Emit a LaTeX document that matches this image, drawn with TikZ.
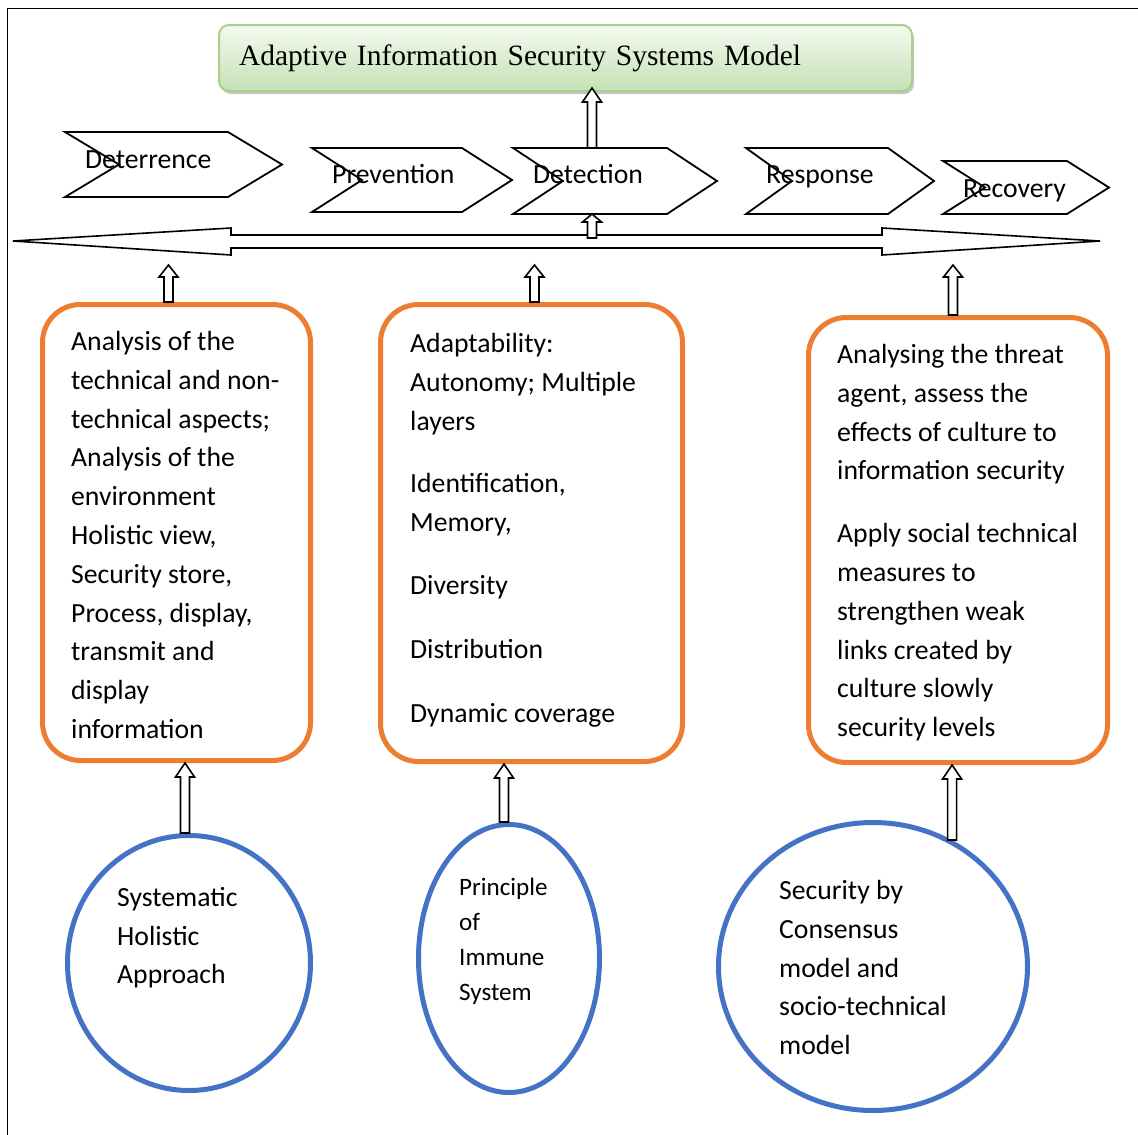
\documentclass[tikz,border=0pt]{standalone}
\usepackage{fontspec}
\setmainfont{Carlito}
\newfontfamily\titlefont{Liberation Serif}
\usetikzlibrary{calc}
\usetikzlibrary{shapes.geometric}
\usetikzlibrary{shadows}
\definecolor{boxorange}{HTML}{ED7D31}
\definecolor{ringblue}{HTML}{4472C4}
\definecolor{titleedge}{HTML}{A9D18E}
\definecolor{titletop}{HTML}{F4FAF0}
\definecolor{titlebot}{HTML}{C5E0B4}
\tikzset{
    chev/.style={draw, line width=1.8pt},
    hollow/.style={draw, line width=1.6pt, fill=white},
    obox/.style={draw=boxorange, line width=5pt, rounded corners=38pt},
    ring/.style={draw=ringblue, line width=5pt, ellipse},
    btext/.style={anchor=north west, inner sep=0pt, align=left, font=\fontsize{27.7}{38.8}\selectfont}
}
% hollow up arrow: x and foot from #2, tip height from #3
\newcommand{\hollowup}[3][14pt]{%
    \draw[hollow] let \p1=(#2), \p2=(#3) in
        (\x1-4.5pt,\y1) -- (\x1-4.5pt,\y2-#1) -- (\x1-9.5pt,\y2-#1) -- (\x1,\y2)
        -- (\x1+9.5pt,\y2-#1) -- (\x1+4.5pt,\y2-#1) -- (\x1+4.5pt,\y1) -- cycle;
}
\begin{document}
\begin{tikzpicture}[x=1pt,y=-1pt]
\useasboundingbox (0,0) rectangle (1138,1135);
\draw[line width=1pt] (7,1135) -- (7,8) -- (1138,8);

\node[draw=titleedge, line width=2pt, rounded corners=10pt, top color=titletop, bottom color=titlebot,
      drop shadow={shadow xshift=2pt, shadow yshift=-3pt, fill=black!45},
      minimum width=693pt, minimum height=66pt, text width=653pt, inner xsep=20pt, align=left,
      font=\titlefont\fontsize{29.5}{36}\selectfont] (title) at (565.5,58) {Adaptive Information Security Systems Model};

% the five phases
\foreach \lft/\tp/\bt/\rt/\dep/\bl/\nm/\txt in {65/132/197/228/54/168/deter/Deterrence,
    312/148/212/462/50/183/prev/Prevention, 513/148/214/667/50/183/detect/Detection,
    746/148/214/888/46/183/resp/Response, 943/161/214/1067/42/197/recov/Recovery}{
    \draw[chev] (\lft,\tp) -- (\rt,\tp) -- ({\rt+\dep},{(\tp+\bt)/2}) -- (\rt,\bt) -- (\lft,\bt) -- ({\lft+\dep},{(\tp+\bt)/2}) -- cycle;
    \node[anchor=base west, inner sep=0pt, font=\fontsize{27.7}{32}\selectfont] (\nm) at ({\lft+20},\bl) {\txt};
}
\coordinate (det-top) at (592,148);
\coordinate (det-bot) at (592,214);
\coordinate (bar-mid) at (592,238);
\coordinate (bar-s) at (0,265);

\draw[hollow] (13,241) -- (231,228) -- (231,235) -- (882,235) -- (882,228) -- (1100,241)
    -- (882,255) -- (882,248) -- (231,248) -- (231,255) -- cycle;

% middle row
\node[obox, minimum width=268pt, minimum height=456pt] (anal) at (176.5,532.5) {};
\node[btext] (anal-t) at (71,331) {Analysis of the\\technical and non-\\technical aspects;\\Analysis of the\\environment\\Holistic view,\\Security store,\\Process, display,\\transmit and\\display\\information};
\node[obox, minimum width=302pt, minimum height=457pt] (adap) at (531.5,533) {};
\node[btext] (adap-t) at (410,333) {Adaptability:\\Autonomy; Multiple\\layers\\[24pt]Identification,\\Memory,\\[24pt]Diversity\\[25pt]Distribution\\[25pt]Dynamic coverage};
\node[obox, minimum width=299pt, minimum height=445pt] (soc) at (958,540) {};
\node[btext] (soc-t) at (837,344) {Analysing the threat\\agent, assess the\\effects of culture to\\information security\\[24pt]Apply social technical\\measures to\\strengthen weak\\links created by\\culture slowly\\security levels};

% bottom row
\node[ring, minimum width=243pt, minimum height=255pt] (sha) at (189,963) {};
\node[btext] (sha-t) at (117,887) {Systematic\\Holistic\\Approach};
\node[ring, minimum width=181pt, minimum height=268pt] (imm) at (509,958.5) {};
\node[btext, font=\fontsize{25.1}{35}\selectfont] (imm-t) at (459,878) {Principle\\of\\Immune\\System};
\node[ring, minimum width=309pt, minimum height=288pt] (cons) at (873,966.5) {};
\node[btext] (cons-t) at (779,880) {Security by\\Consensus\\model and\\socio-technical\\model};

% arrows
\hollowup{det-top}{$(title.south)+(0,-4)$}
\hollowup[8pt]{det-bot |- bar-mid}{det-bot}
\hollowup[12pt]{$(anal.north)+(-8,0)$}{bar-s}
\hollowup[12pt]{$(adap.north)+(3,0)$}{bar-s}
\hollowup[12pt]{$(soc.north)+(-5,0)$}{bar-s}
\hollowup{$(sha.north)+(-4,0)$}{anal.south}
\hollowup{$(imm.north)+(-5,0)$}{adap.south}
\hollowup{cons.58}{soc.south}
\end{tikzpicture}
\end{document}
